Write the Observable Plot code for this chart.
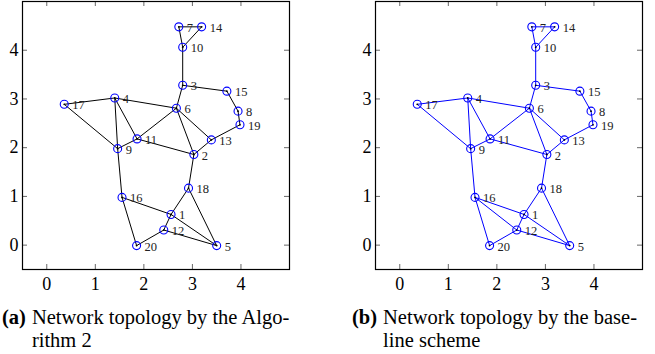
<!DOCTYPE html>
<html><head><meta charset="utf-8">
<script src="https://cdn.jsdelivr.net/npm/d3@7"></script>
<script src="https://cdn.jsdelivr.net/npm/@observablehq/plot@0.6"></script>
<style>
body{margin:0;background:#fff;width:655px;height:354px;overflow:hidden;position:relative;font-family:"Liberation Serif","Times New Roman",serif;}
.panel{position:absolute;top:0;}
.panel svg, .panel svg text{font-family:"Liberation Serif","Times New Roman",serif !important;}
.cap{position:absolute;top:306px;font-size:20.5px;line-height:23px;display:flex;color:#000;white-space:nowrap;}
.cap b{margin-right:6px;}
</style></head><body>
<div id="a" class="panel" style="left:0"></div>
<div id="b" class="panel" style="left:353px"></div>
<div class="cap" style="left:2px;"><b>(a)</b><span>Network topology by the Algo-<br>rithm 2</span></div>
<div class="cap" style="left:352px;"><b>(b)</b><span>Network topology by the base-<br>line scheme</span></div>
<script>
const nodeIds = [1,2,3,4,5,6,7,8,9,10,11,12,13,14,15,16,17,18,19,20];
const nodeX = [2.56,3.03,2.80,1.40,3.50,2.67,2.72,3.94,1.46,2.80,1.86,2.41,3.39,3.19,3.71,1.55,0.36,2.92,3.98,1.85];
const nodeY = [0.63,1.86,3.28,3.02,-0.01,2.81,4.48,2.75,1.98,4.06,2.18,0.31,2.16,4.48,3.16,0.98,2.89,1.17,2.47,-0.01];
const edgesA = [[7,14],[7,10],[14,10],[10,3],[3,15],[15,8],[8,19],[19,13],[3,6],[17,4],[4,6],[17,9],[4,9],[4,11],[11,9],[6,11],[6,13],[6,2],[11,2],[13,2],[2,18],[18,1],[18,5],[9,16],[16,1],[16,20],[1,12],[1,5],[12,5],[12,20]];
const edgesB = [...edgesA, [16,12]];
const xTicks = [0,1,2,3,4];
const yTicks = [0,1,2,3,4];
const xDomain = [-0.5,5];
const yDomain = [-0.5,5];

const nodes = nodeIds.map((id,i)=>({id, x:nodeX[i], y:nodeY[i]}));
const byId = new Map(nodes.map(d=>[d.id,d]));
const serif = '"Liberation Serif","Times New Roman",serif';

function panel(edges, color){
  const W = 299, H = 301, mL = 22, mR = 10, mT = 1, mB = 32;
  const pW = W - mL - mR, pH = H - mT - mB;
  const links = edges.map(([a,b])=>({a:byId.get(a), b:byId.get(b)}));
  return Plot.plot({
    width: W, height: H, marginLeft: mL, marginRight: mR, marginTop: mT, marginBottom: mB,
    style: {fontFamily: serif, fontSize: "18px", background: "transparent", color: "#000"},
    x: {domain: xDomain, ticks: xTicks},
    y: {domain: yDomain, ticks: yTicks},
    marks: [
      Plot.axisX(xTicks, {tickSize: 0, tickPadding: 8, label: null, fontSize: 18, fontFamily: serif}),
      Plot.axisY(yTicks, {tickSize: 0, tickPadding: 4, label: null, fontSize: 18, fontFamily: serif}),
      Plot.tickX(xTicks, {x: d=>d, insetTop: pH-5, stroke: "#000", strokeWidth: 0.6}),
      Plot.tickX(xTicks, {x: d=>d, insetBottom: pH-5, stroke: "#000", strokeWidth: 0.6}),
      Plot.tickY(yTicks, {y: d=>d, insetRight: pW-5, stroke: "#000", strokeWidth: 0.6}),
      Plot.tickY(yTicks, {y: d=>d, insetLeft: pW-5, stroke: "#000", strokeWidth: 0.6}),
      Plot.frame({stroke: "#000", strokeWidth: 1.2}),
      Plot.link(links, {x1: d=>d.a.x, y1: d=>d.a.y, x2: d=>d.b.x, y2: d=>d.b.y, stroke: color, strokeWidth: 1}),
      Plot.dot(nodes, {x: "x", y: "y", r: 4, stroke: "#0000ff", strokeWidth: 1.1, fill: "none"}),
      Plot.dot(nodes, {x: "x", y: "y", r: 0.9, fill: "#000", stroke: null}),
      Plot.text(nodes, {x: "x", y: "y", text: d=>String(d.id), dx: 8, dy: 1, textAnchor: "start", fontSize: 12.5, fontFamily: serif, fill: "#222"})
    ]
  });
}
document.getElementById("a").append(panel(edgesA, "#000"));
document.getElementById("b").append(panel(edgesB, "#0000ff"));
</script>
</body></html>
